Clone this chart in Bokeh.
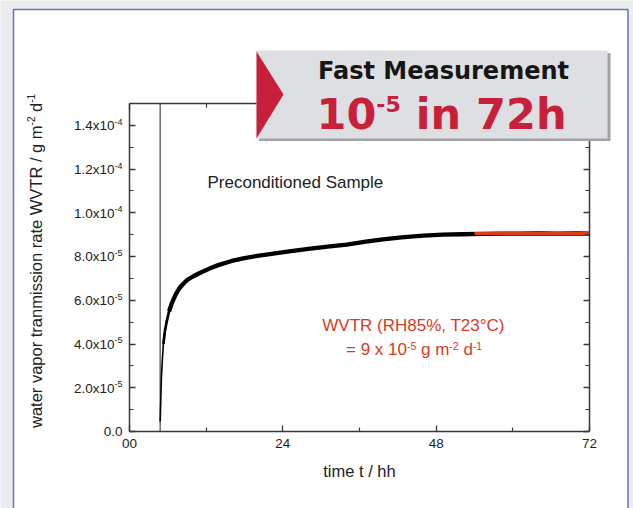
import math
from bokeh.plotting import figure
from bokeh.models import (Range1d, LinearAxis, FixedTicker, CustomJSTickFormatter,
                          Label, BoxAnnotation, PolyAnnotation)
from bokeh.embed import file_html
from bokeh.resources import INLINE

# ---------------- data ----------------
time_h = [4.8, 4.9, 5.0, 5.15, 5.3, 5.55, 5.8, 6.2, 6.6, 7.2, 7.8, 8.5, 9.1, 10.0,
          11.0, 12.5, 14.0, 16.0, 18.0, 20.0, 22.5, 25.0, 28.0, 31.0, 34.0, 37.0,
          40.0, 43.0, 46.0, 49.0, 52.0, 55.0, 58.0, 61.0, 64.0, 67.0, 70.0, 72.0]
wvtr = [0.46e-5, 1.5e-5, 2.5e-5, 3.3e-5, 4.0e-5, 4.6e-5, 5.0e-5, 5.5e-5, 5.85e-5,
        6.25e-5, 6.55e-5, 6.78e-5, 6.95e-5, 7.1e-5, 7.25e-5, 7.45e-5, 7.62e-5, 7.8e-5,
        7.93e-5, 8.03e-5, 8.14e-5, 8.24e-5, 8.35e-5, 8.45e-5, 8.55e-5, 8.68e-5,
        8.80e-5, 8.89e-5, 8.96e-5, 9.00e-5, 9.02e-5, 9.04e-5, 9.05e-5, 9.05e-5,
        9.06e-5, 9.05e-5, 9.06e-5, 9.05e-5]
mid_from, thick_from = 4, 7         # indices where the measured band widens
precondition_h = 4.8                # vertical marker (end of preconditioning)
fit_start_h, fit_end_h = 54.0, 72.0
fit_value = 9.05e-5

X_MIN, X_MAX = 0, 72
Y_MIN, Y_MAX = 0.0, 1.5e-4
X_TICKS = [0, 24, 48, 72]
X_TICK_LABELS = ["00", "24", "48", "72"]
X_MINOR = [12, 36, 60]
Y_TICKS = [0.0, 2e-5, 4e-5, 6e-5, 8e-5, 1.0e-4, 1.2e-4, 1.4e-4]
Y_TICK_BASE = ["0.0", "2.0x10", "4.0x10", "6.0x10", "8.0x10", "1.0x10", "1.2x10", "1.4x10"]
Y_TICK_EXP = ["", "-5", "-5", "-5", "-5", "-4", "-4", "-4"]
Y_MINOR = [1e-5, 3e-5, 5e-5, 7e-5, 9e-5, 1.1e-4, 1.3e-4]

X_LABEL = "time t / hh"
Y_LABEL = [("water vapor tranmission rate WVTR / g m", False), ("-2", True),
           (" d", False), ("-1", True)]
NOTE = "Preconditioned Sample"
RESULT_1 = "WVTR (RH85%, T23°C)"
RESULT_2 = [("= 9 x 10", False), ("-5", True), (" g m", False), ("-2", True),
            (" d", False), ("-1", True)]
BANNER_1 = "Fast Measurement"
BANNER_2 = [("10", False), ("-5", True), (" in 72h", False)]

# ---------------- style ----------------
FONT = "Liberation Sans"
BANNER_FONT = "DejaVu Sans"
AXIS_COLOR = "#383838"
TEXT_COLOR = "#222222"
RED_TEXT = "#d63b27"
FIT_RED = "#e2381c"
BANNER_RED = "#c8203b"
BASE_SHIFT = {FONT: 0.36, BANNER_FONT: 0.385}   # em correction of the rendered baseline

# layout in canvas pixels: the plot box sits here, the whole canvas is the frame
W, H = 633, 508
BOX_L, BOX_T, BOX_W, BOX_H = 129.0, 103.0, 460.0, 328.0

def xd(px):
    return X_MIN + (px - BOX_L) * (X_MAX - X_MIN) / BOX_W

def yd(py):
    return Y_MIN + (BOX_T + BOX_H - py) * (Y_MAX - Y_MIN) / BOX_H

def ypx(v):
    return BOX_T + BOX_H - (v - Y_MIN) * BOX_H / (Y_MAX - Y_MIN)

ARIAL = {' ': .278, '.': .278, ',': .278, '-': .333, '/': .278, '=': .584, '%': .889,
         '(': .333, ')': .333, '°': .4, 'a': .556, 'c': .5, 'd': .556, 'e': .556,
         'g': .556, 'h': .556, 'i': .222, 'l': .222, 'm': .833, 'n': .556, 'o': .556,
         'p': .556, 'r': .333, 's': .5, 't': .278, 'v': .5, 'w': .722, 'x': .5,
         'W': .944, 'V': .667, 'T': .611, 'R': .722, 'H': .722, 'C': .722,
         'S': .667, 'P': .667}
DEJAVU_BOLD = {' ': .348, '-': .416, 'i': .343, 'n': .712, 'h': .712}

def width(text, size, table, default):
    return sum(table.get(c, default) for c in text) * size

p = figure(width=W, height=H, title=None,
           x_range=Range1d(xd(0), xd(W)), y_range=Range1d(yd(H), yd(0)),
           output_backend="svg", toolbar_location=None, min_border=0,
           background_fill_color="#ebecee", border_fill_color="#ebecee",
           outline_line_color=None)
p.xgrid.visible = False
p.ygrid.visible = False

def text_at(txt, px, py, size, color, font, style="normal", align="left",
            angle=0.0, level="annotation"):
    s = BASE_SHIFT[font] * size
    if angle == 0:
        py -= s
    else:
        px -= s
    p.add_layout(Label(x=xd(px), y=yd(py), text=txt, angle=angle,
                       text_font=font, text_font_size=f"{size}px",
                       text_font_style=style, text_color=color,
                       text_align=align, text_baseline="alphabetic", level=level))

def rich(pieces, x, y, size, sup_size, rise, color, font, table, default,
         style="normal", angle=0.0, level="annotation"):
    pos = 0.0
    for txt, sup in pieces:
        fs = sup_size if sup else size
        lead = len(txt) - len(txt.lstrip(" "))
        pos += width(" " * lead, fs, table, default)
        r = rise if sup else 0.0
        if angle == 0:
            px, py = x + pos, y - r
        else:
            px, py = x - r, y - pos
        text_at(txt.strip(" "), px, py, fs, color, font, style=style, angle=angle, level=level)
        pos += width(txt.lstrip(" "), fs, table, default)
    return pos

# white panel with blue frame
p.add_layout(BoxAnnotation(left=xd(13), right=xd(627.5), top=yd(9), bottom=yd(530),
                           fill_color="white", fill_alpha=1.0, line_color="#6d71b8",
                           line_alpha=1.0, line_width=1.5, level="underlay"))

# ---------------- axes (fixed at the plot-box edges) ----------------
blank = CustomJSTickFormatter(code="return ''")
x_fmt = CustomJSTickFormatter(args=dict(tick_vals=X_TICKS, tick_text=X_TICK_LABELS),
                              code="const i = tick_vals.indexOf(tick); return i >= 0 ? tick_text[i] : '';")

def style_axis(ax, ticks, minor, fmt, bounds, loc):
    ax.ticker = FixedTicker(ticks=ticks, minor_ticks=minor)
    ax.formatter = fmt
    ax.bounds = bounds
    ax.fixed_location = loc
    ax.axis_line_color = AXIS_COLOR
    ax.axis_line_width = 1.5
    ax.major_tick_line_color = AXIS_COLOR
    ax.major_tick_line_width = 1.3
    ax.minor_tick_line_color = AXIS_COLOR
    ax.minor_tick_line_width = 1.2
    ax.major_tick_in = 6
    ax.major_tick_out = 0
    ax.minor_tick_in = 4
    ax.minor_tick_out = 0

xb = p.below[0]
style_axis(xb, X_TICKS, X_MINOR, x_fmt, (X_MIN, X_MAX), Y_MIN)
xb.major_label_text_font = FONT
xb.major_label_text_font_size = "13.5px"
xb.major_label_text_color = TEXT_COLOR
xb.major_label_standoff = 7
xb.axis_label = X_LABEL
xb.axis_label_text_font = FONT
xb.axis_label_text_font_size = "16.5px"
xb.axis_label_text_font_style = "normal"
xb.axis_label_text_color = TEXT_COLOR
xb.axis_label_standoff = 11

yl = p.left[0]
style_axis(yl, Y_TICKS, Y_MINOR, blank, (Y_MIN, Y_MAX), X_MIN)

xt = LinearAxis()
style_axis(xt, X_TICKS, X_MINOR, blank, (X_MIN, X_MAX), Y_MAX)
p.add_layout(xt, "above")
yr = LinearAxis()
style_axis(yr, Y_TICKS, Y_MINOR, blank, (Y_MIN, Y_MAX), X_MAX)
p.add_layout(yr, "right")

# y tick labels with superscript exponents
for v, base, exp in zip(Y_TICKS, Y_TICK_BASE, Y_TICK_EXP):
    total = width(base, 13.5, ARIAL, .556) + width(exp, 9, ARIAL, .556)
    rich([(base, False), (exp, True)] if exp else [(base, False)],
         122 - total, ypx(v) + 5.2, 13.5, 9, 5.5, TEXT_COLOR, FONT, ARIAL, .556)

# rotated y axis title
rich(Y_LABEL, 41, 427.5, 16.5, 10, 6.5, TEXT_COLOR, FONT, ARIAL, .556, angle=math.pi / 2)

# ---------------- data marks ----------------
p.segment(x0=[precondition_h], y0=[Y_MIN], x1=[precondition_h], y1=[Y_MAX],
          line_color="#555555", line_width=1.3)
p.line(time_h, wvtr, line_color="black", line_width=1.6, line_join="round")
p.line(time_h[mid_from:], wvtr[mid_from:], line_color="black", line_width=2.7,
       line_join="round")
p.line(time_h[thick_from:], wvtr[thick_from:], line_color="black", line_width=4.3,
       line_join="round")
p.line([fit_start_h, fit_end_h], [fit_value, fit_value], line_color=FIT_RED, line_width=3)

# ---------------- texts ----------------
text_at(NOTE, 207, 188.3, 17, TEXT_COLOR, FONT)
text_at(RESULT_1, 413, 330.7, 17, RED_TEXT, FONT, align="center")
rich(RESULT_2, 345.5, 355, 17, 10.5, 6, RED_TEXT, FONT, ARIAL, .556)

# ---------------- banner ----------------
p.add_layout(BoxAnnotation(left=xd(258.5), right=xd(610), top=yd(52.5), bottom=yd(140.5),
                           fill_color="#a3a3a7", fill_alpha=1.0, line_color=None,
                           level="annotation"))
p.add_layout(BoxAnnotation(left=xd(256), right=xd(607), top=yd(50), bottom=yd(138),
                           fill_color="#dedfe2", fill_alpha=1.0, line_color=None,
                           level="annotation"))
p.add_layout(PolyAnnotation(xs=[xd(256), xd(283), xd(256)], ys=[yd(51), yd(94), yd(138)],
                            fill_color=BANNER_RED, fill_alpha=1.0, line_color=None,
                            level="annotation"))
text_at(BANNER_1, 443, 79.3, 24, "#161616", BANNER_FONT, style="bold", align="center",
        level="overlay")
rich(BANNER_2, 316, 130, 43, 22, 18.3, BANNER_RED, BANNER_FONT, DEJAVU_BOLD, .696,
     style="bold", level="overlay")

open("out.html", "w").write(file_html(p, INLINE))
